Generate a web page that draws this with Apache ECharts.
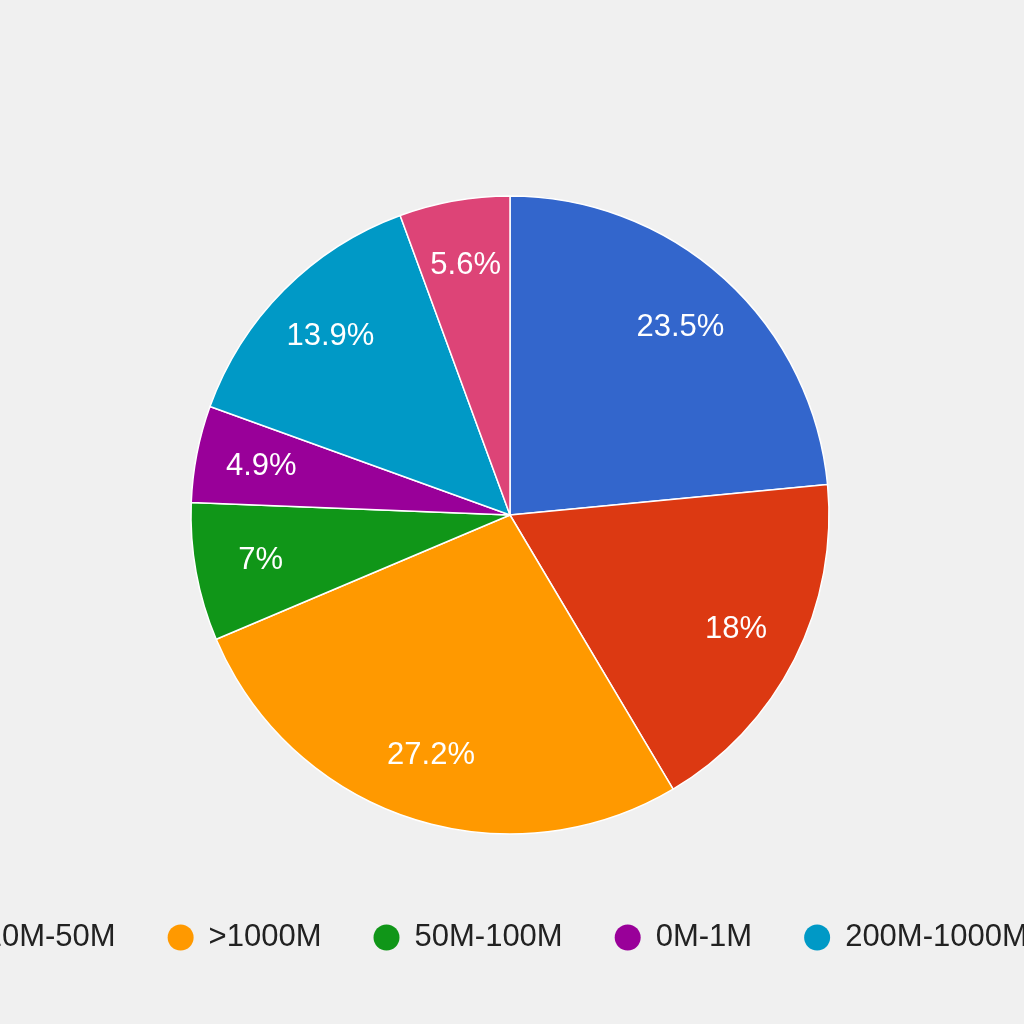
<!DOCTYPE html>
<html>
<head>
<meta charset="utf-8">
<script src="https://cdn.jsdelivr.net/npm/echarts@6/dist/echarts.min.js"></script>
<style>
html,body{margin:0;padding:0;background:#f0f0f0;}
#chart{width:1024px;height:1024px;}
</style>
</head>
<body>
<div id="chart"></div>
<script>
const categories = ['1M-10M', '10M-50M', '>1000M', '50M-100M', '0M-1M', '200M-1000M', '100M-200M'];
const values = [23.5, 18, 27.2, 7, 4.9, 13.9, 5.6];
const colors = ['#3366cc', '#dc3912', '#ff9900', '#109618', '#990099', '#0099c6', '#dd4477'];

const data = categories.map((name, i) => ({ name: name, value: values[i] }));
const R = 319;
const chart = echarts.init(document.getElementById('chart'));
chart.setOption({
  backgroundColor: '#f0f0f0',
  color: colors,
  animation: false,
  legend: {
    data: categories,
    orient: 'horizontal',
    left: -268,
    top: 917,
    width: 3000,
    icon: 'circle',
    itemWidth: 26,
    itemHeight: 26,
    itemGap: 52,
    itemStyle: { borderWidth: 0 },
    textStyle: {
      fontFamily: 'Liberation Sans, Arial, sans-serif',
      fontSize: 31,
      color: '#222222',
      lineHeight: 26,
      padding: [0, 0, 0, 10]
    }
  },
  series: [
    {
      type: 'pie',
      center: [510, 515],
      radius: [0, R],
      startAngle: 90,
      clockwise: true,
      data: data,
      label: { show: false },
      labelLine: { show: false },
      itemStyle: { borderColor: '#ffffff', borderWidth: 1.5 },
      emphasis: { scale: false }
    },
    {
      type: 'pie',
      center: [510, 515],
      radius: [R * 0.57, R],
      startAngle: 90,
      clockwise: true,
      silent: true,
      data: data,
      itemStyle: { color: 'transparent', borderWidth: 0 },
      label: {
        show: true,
        position: 'inside',
        formatter: '{c}%',
        color: '#ffffff',
        fontFamily: 'Liberation Sans, Arial, sans-serif',
        fontSize: 31
      },
      labelLine: { show: false },
      emphasis: { disabled: true }
    }
  ]
});
</script>
</body>
</html>
